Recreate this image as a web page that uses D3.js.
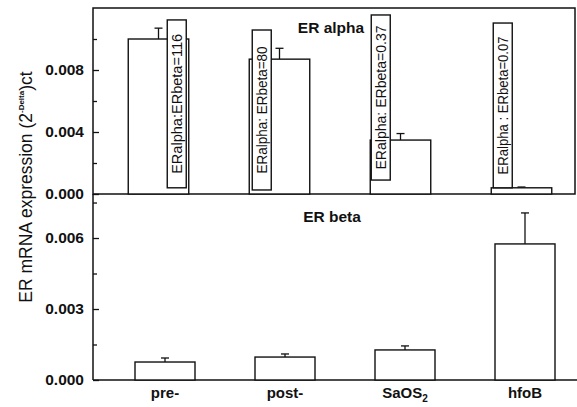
<!DOCTYPE html>
<html>
<head>
<meta charset="utf-8">
<script src="https://cdn.jsdelivr.net/npm/d3@7"></script>
<style>
  body { margin: 0; background: #fff; }
  svg { display: block; font-family: "Liberation Sans", Arial, sans-serif; }
</style>
</head>
<body>
<div id="chart"></div>
<script>
// DATA
const cells = ['pre-', 'post-', 'SaOS2', 'hfoB'];
const alphaMean = [0.0100, 0.0087, 0.00348, 0.00040];
const alphaErr = [0.0007, 0.0007, 0.00042, 0.00005];
const betaMean = [0.00076, 0.00097, 0.00127, 0.00575];
const betaErr = [0.00017, 0.00013, 0.00017, 0.00131];
const ratioLabels = ['ERalpha:ERbeta=116', 'ERalpha: ERbeta=80', 'ERalpha: ERbeta=0.37', 'ERalpha : ERbeta=0.07'];
const alphaTicks = [0, 0.004, 0.008];
const alphaMinor = [0.002, 0.006, 0.010];
const betaTicks = [0, 0.003, 0.006];
const betaMinor = [0.0015, 0.0045, 0.0075];

// label box layout (offset from bar left, top / bottom in alpha units, text length)
const boxLayout = [
  { dx: 39, top: 0.01123, bottom: 0.0004, len: 140 },
  { dx: 3, top: 0.01058, bottom: 0.00026, len: 127 },
  { dx: 1, top: 0.01155, bottom: 0.0009, len: 144 },
  { dx: 2, top: 0.01103, bottom: 0.0004, len: 138 },
];

const width = 577;
const height = 407;
const left = 93;
const right = 575;

const svg = d3.select('#chart').append('svg')
  .attr('width', width)
  .attr('height', height);

// scales
const xTop = d3.scaleBand().domain(cells).range([98, 582]).paddingInner(0.5).paddingOuter(0.25);
const xBot = d3.scaleBand().domain(cells).range([105, 585]).paddingInner(0.5).paddingOuter(0.25);
const yTop = d3.scaleLinear().domain([0, 0.012]).range([194, 8]);
const yBot = d3.scaleLinear().domain([0, 0.00786]).range([380, 194]);

const fmt = d3.format('.3f');

// top frame
svg.append('rect')
  .attr('x', left).attr('y', yTop(0.012))
  .attr('width', right - left).attr('height', yTop(0) - yTop(0.012))
  .attr('fill', 'none').attr('stroke', '#111').attr('stroke-width', 1.5);

// bottom axis lines
svg.append('line')
  .attr('x1', left).attr('x2', width).attr('y1', yBot(0)).attr('y2', yBot(0))
  .attr('stroke', '#111').attr('stroke-width', 1.5);
svg.append('line')
  .attr('x1', left).attr('x2', left).attr('y1', yBot(0.00786)).attr('y2', yBot(0))
  .attr('stroke', '#111').attr('stroke-width', 1.5);

function drawAxis(scale, major, minor) {
  const g = svg.append('g').attr('transform', `translate(${left},0)`)
    .call(d3.axisLeft(scale).tickValues(major).tickSizeInner(-6).tickSizeOuter(0).tickPadding(9).tickFormat(fmt));
  g.select('.domain').remove();
  g.selectAll('line').attr('stroke', '#111').attr('stroke-width', 1.3);
  g.selectAll('text')
    .attr('font-size', 15.5).attr('font-weight', 'bold').attr('fill', '#111')
    .attr('font-family', '"Liberation Sans", Arial, sans-serif');
  const m = svg.append('g').attr('transform', `translate(${left},0)`)
    .call(d3.axisLeft(scale).tickValues(minor).tickSizeInner(-4).tickSizeOuter(0).tickFormat(''));
  m.select('.domain').remove();
  m.selectAll('line').attr('stroke', '#111').attr('stroke-width', 1.3);
}
drawAxis(yTop, alphaTicks, alphaMinor);
drawAxis(yBot, betaTicks, betaMinor);

// error bars + bars
function drawBars(x, y, means, errs) {
  const g = svg.append('g');
  cells.forEach((c, i) => {
    const cx = x(c) + x.bandwidth() / 2;
    g.append('line')
      .attr('x1', cx).attr('x2', cx)
      .attr('y1', y(means[i])).attr('y2', y(means[i] + errs[i]))
      .attr('stroke', '#111').attr('stroke-width', 1.3);
    g.append('line')
      .attr('x1', cx - 4).attr('x2', cx + 4)
      .attr('y1', y(means[i] + errs[i])).attr('y2', y(means[i] + errs[i]))
      .attr('stroke', '#111').attr('stroke-width', 1.3);
  });
  g.selectAll('rect.bar')
    .data(means)
    .join('rect')
    .attr('class', 'bar')
    .attr('x', (d, i) => x(cells[i]))
    .attr('y', (d) => y(d))
    .attr('width', x.bandwidth())
    .attr('height', (d) => y(0) - y(d))
    .attr('fill', '#fff')
    .attr('stroke', '#111')
    .attr('stroke-width', 1.4);
}
drawBars(xTop, yTop, alphaMean, alphaErr);
drawBars(xBot, yBot, betaMean, betaErr);

// ratio label boxes
cells.forEach((c, i) => {
  const b = boxLayout[i];
  const bx = xTop(c) + b.dx;
  const y0 = yTop(b.top);
  const y1 = yTop(b.bottom);
  svg.append('rect')
    .attr('x', bx).attr('y', y0)
    .attr('width', 19).attr('height', y1 - y0)
    .attr('fill', '#fff').attr('stroke', '#111').attr('stroke-width', 1.4);
  const ty = (y0 + y1) / 2;
  svg.append('text')
    .attr('transform', `translate(${bx + 10},${ty}) rotate(-90)`)
    .attr('text-anchor', 'middle')
    .attr('dominant-baseline', 'central')
    .attr('font-size', 14)
    .attr('fill', '#111')
    .attr('textLength', b.len)
    .attr('lengthAdjust', 'spacingAndGlyphs')
    .text(ratioLabels[i]);
});

// panel titles
svg.append('text')
  .attr('x', 331).attr('y', 33)
  .attr('text-anchor', 'middle')
  .attr('font-size', 15.5).attr('font-weight', 'bold').attr('fill', '#111')
  .text('ER alpha');
svg.append('text')
  .attr('x', 332).attr('y', 222)
  .attr('text-anchor', 'middle')
  .attr('font-size', 15.5).attr('font-weight', 'bold').attr('fill', '#111')
  .text('ER beta');

// x labels
const xl = svg.append('g');
cells.forEach((c) => {
  const t = xl.append('text')
    .attr('x', xBot(c) + xBot.bandwidth() / 2)
    .attr('y', 398)
    .attr('text-anchor', 'middle')
    .attr('font-size', 15).attr('font-weight', 'bold').attr('fill', '#111');
  if (c === 'SaOS2') {
    t.append('tspan').text('SaOS');
    t.append('tspan').attr('font-size', 10).attr('dy', 4).text('2');
  } else {
    t.text(c);
  }
});

// y axis label
const yl = svg.append('text')
  .attr('transform', 'translate(32,187) rotate(-90)')
  .attr('text-anchor', 'middle')
  .attr('font-size', 17.5).attr('fill', '#111');
yl.append('tspan').text('ER mRNA expression (2');
yl.append('tspan').attr('font-size', 8).attr('font-weight', 'bold').attr('dy', -8).text('-Delta');
yl.append('tspan').attr('dy', 8).text(')ct');
</script>
</body>
</html>
